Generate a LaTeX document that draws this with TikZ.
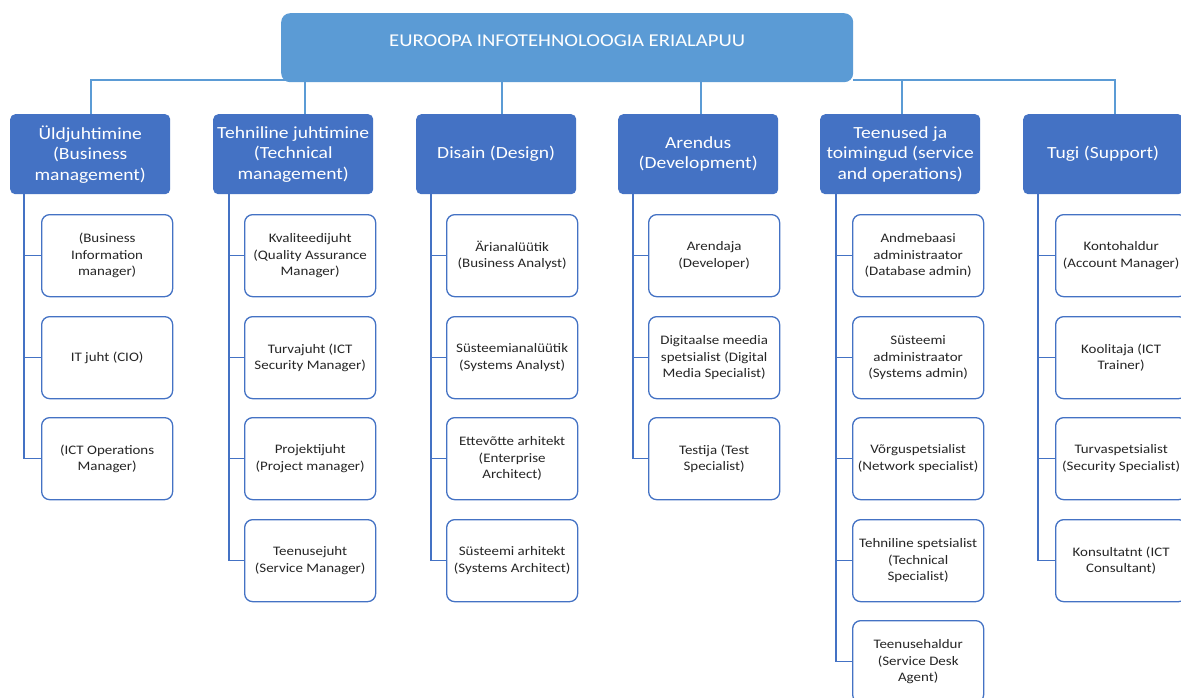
\documentclass[tikz,border=0pt]{standalone}
\usepackage{fontspec}
\setmainfont{Carlito}[FakeStretch=1.15]
\usetikzlibrary{backgrounds}
\definecolor{rootblue}{HTML}{5B9BD5}
\definecolor{catblue}{HTML}{4472C4}
\definecolor{txt}{HTML}{262626}
\begin{document}
\begin{tikzpicture}[x=1pt,y=-1pt,
  rootbox/.style={fill=rootblue, rounded corners=9pt, minimum width=572pt, inner xsep=0pt, inner ysep=0pt,
    text height=33.8pt, text depth=35.2pt, anchor=north west, text=white, font=\fontsize{18}{21}\selectfont},
  catbox/.style={fill=catblue, rounded corners=5pt, minimum width=160pt, minimum height=80pt, inner sep=0pt,
    anchor=north west, text=white, align=center, font=\fontsize{17}{20.5}\selectfont},
  childbox/.style={draw=catblue, line width=1.3pt, fill=white, rounded corners=8pt, minimum width=131pt,
    minimum height=82pt, inner sep=0pt, anchor=north west, align=center, text=txt, font=\fontsize{13}{16.3}\selectfont},
  topline/.style={draw=rootblue, line width=1.3pt},
  trunk/.style={draw=catblue, line width=1.4pt}]
\useasboundingbox (0,0) rectangle (1181,698);

\node[rootbox] (root) at (281,13) {EUROOPA INFOTEHNOLOOGIA ERIALAPUU};

\node[catbox] (c1) at (10,114) {Üldjuhtimine\\(Business\\management)};
\node[catbox] (c2) at (213,114) {Tehniline juhtimine\\(Technical\\management)};
\node[catbox] (c3) at (416,114) {Disain (Design)};
\node[catbox] (c4) at (618,114) {Arendus\\(Development)};
\node[catbox] (c5) at (820,114) {Teenused ja\\toimingud (service\\and operations)};
\node[catbox] (c6) at (1023,114) {Tugi (Support)};

% column 1
\node[childbox] (c1a) at (41,214) {(Business\\Information\\manager)};
\node[childbox] (c1b) at (41,316) {IT juht (CIO)};
\node[childbox] (c1c) at (41,417) {(ICT Operations\\Manager)};
% column 2
\node[childbox] (c2a) at (244,214) {Kvaliteedijuht\\(Quality Assurance\\Manager)};
\node[childbox] (c2b) at (244,316) {Turvajuht (ICT\\Security Manager)};
\node[childbox] (c2c) at (244,417) {Projektijuht\\(Project manager)};
\node[childbox] (c2d) at (244,519) {Teenusejuht\\(Service Manager)};
% column 3
\node[childbox] (c3a) at (446,214) {Ärianalüütik\\(Business Analyst)};
\node[childbox] (c3b) at (446,316) {Süsteemianalüütik\\(Systems Analyst)};
\node[childbox] (c3c) at (446,417) {Ettevõtte arhitekt\\(Enterprise\\Architect)};
\node[childbox] (c3d) at (446,519) {Süsteemi arhitekt\\(Systems Architect)};
% column 4
\node[childbox] (c4a) at (648,214) {Arendaja\\(Developer)};
\node[childbox] (c4b) at (648,316) {Digitaalse meedia\\spetsialist (Digital\\Media Specialist)};
\node[childbox] (c4c) at (648,417) {Testija (Test\\Specialist)};
% column 5
\node[childbox] (c5a) at (852,214) {Andmebaasi\\administraator\\(Database admin)};
\node[childbox] (c5b) at (852,316) {Süsteemi\\administraator\\(Systems admin)};
\node[childbox] (c5c) at (852,417) {Võrguspetsialist\\(Network specialist)};
\node[childbox] (c5d) at (852,519) {Tehniline spetsialist\\(Technical\\Specialist)};
\node[childbox] (c5e) at (852,620) {Teenusehaldur\\(Service Desk\\Agent)};
% column 6
\node[childbox] (c6a) at (1055,214) {Kontohaldur\\(Account Manager)};
\node[childbox] (c6b) at (1055,316) {Koolitaja (ICT\\Trainer)};
\node[childbox] (c6c) at (1055,417) {Turvaspetsialist\\(Security Specialist)};
\node[childbox] (c6d) at (1055,519) {Konsultatnt (ICT\\Consultant)};

% connector end points on the category boxes
\coordinate (t1) at (91,114);
\coordinate (t2) at (305,114);
\coordinate (t3) at (502,114);
\coordinate (t4) at (701,114);
\coordinate (t5) at (902,114);
\coordinate (t6) at (1115,114);
\coordinate (b1) at (24,194);
\coordinate (b2) at (229,194);
\coordinate (b3) at (431,194);
\coordinate (b4) at (633,194);
\coordinate (b5) at (836,194);
\coordinate (b6) at (1038,194);

\begin{scope}[on background layer]
  \fill[white] (0,0) rectangle (1181,698);
  \draw[topline] (t1) |- (root.west |- 0,80);
  \draw[topline] (t2) |- (root.west |- 0,80);
  \draw[topline] (t3) -- (t3 |- root.south);
  \draw[topline] (t4) -- (t4 |- root.south);
  \draw[topline] (t5) |- (root.east |- 0,80);
  \draw[topline] (t6) |- (root.east |- 0,80);

  \foreach \c in {c1a,c1b,c1c} \draw[trunk] (b1) |- (\c.west);
  \foreach \c in {c2a,c2b,c2c,c2d} \draw[trunk] (b2) |- (\c.west);
  \foreach \c in {c3a,c3b,c3c,c3d} \draw[trunk] (b3) |- (\c.west);
  \foreach \c in {c4a,c4b,c4c} \draw[trunk] (b4) |- (\c.west);
  \foreach \c in {c5a,c5b,c5c,c5d,c5e} \draw[trunk] (b5) |- (\c.west);
  \foreach \c in {c6a,c6b,c6c,c6d} \draw[trunk] (b6) |- (\c.west);
\end{scope}
\end{tikzpicture}
\end{document}
